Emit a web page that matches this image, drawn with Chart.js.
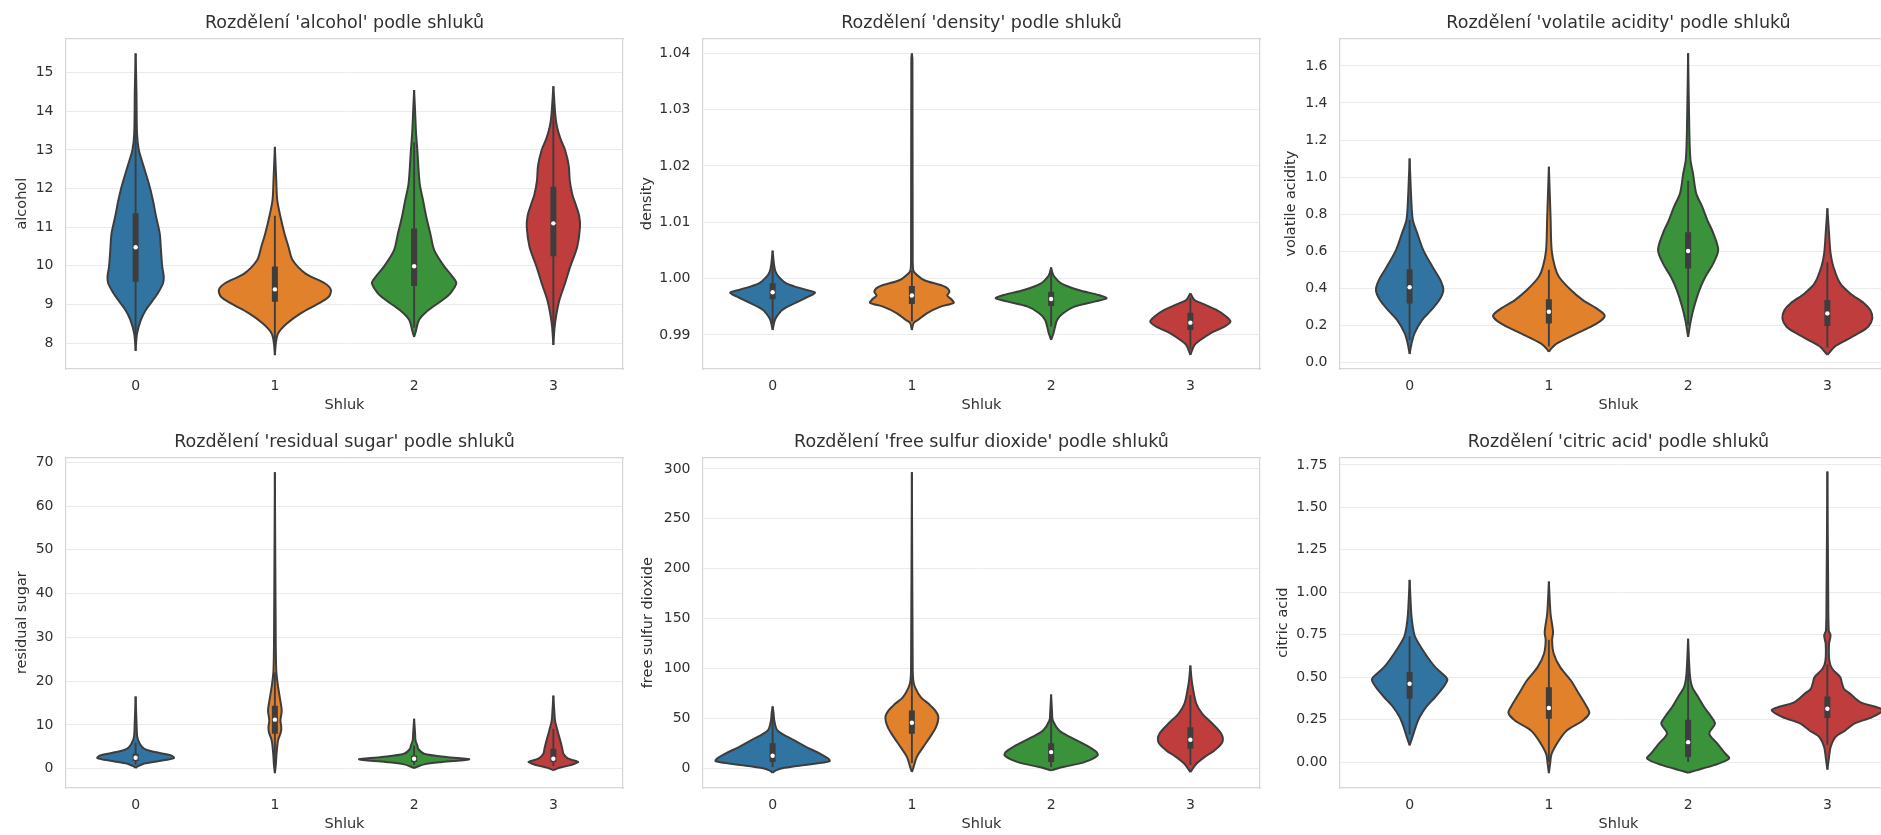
<!DOCTYPE html>
<html>
<head>
<meta charset="utf-8">
<title>Rozdělení vlastností vína podle shluků</title>
<script src="https://cdn.jsdelivr.net/npm/chart.js@4.4.1/dist/chart.umd.min.js"></script>
<style>
  html, body { margin: 0; padding: 0; background: #ffffff; }
  body { position: relative; width: 1881px; height: 835px; overflow: hidden; }
  canvas { position: absolute; }
</style>
</head>
<body>
<script>
// Cluster categories and their violin colours
const clusterLabels = ['0', '1', '2', '3'];
const clusterFills = ['#3274a1', '#e1812c', '#3a923a', '#c03d3e'];

// Violin outlines: [value, half-width in category units], sorted by value

// alcohol
const alcoholShapes = [
  [[7.8,0],[8.25,0.01],[8.6,0.038],[8.85,0.072],[9.11,0.124],[9.29,0.159],[9.55,0.197],[9.72,0.202],[9.98,0.191],[10.4,0.182],[10.84,0.173],[11.27,0.147],[11.7,0.124],[12.05,0.101],[12.57,0.058],[13.0,0.023],[13.43,0.01],[14.5,0.006],[15.5,0]],
  [[7.69,0],[8.0,0.007],[8.25,0.023],[8.5,0.084],[8.77,0.185],[9.03,0.315],[9.2,0.387],[9.38,0.402],[9.55,0.358],[9.8,0.22],[10.15,0.127],[10.49,0.098],[10.84,0.069],[11.27,0.04],[11.7,0.017],[12.2,0.01],[13.08,0]],
  [[8.16,0],[8.3,0.012],[8.6,0.035],[8.85,0.101],[9.11,0.202],[9.29,0.26],[9.55,0.303],[9.72,0.275],[9.98,0.217],[10.4,0.145],[10.84,0.116],[11.27,0.087],[11.7,0.064],[12.13,0.04],[13.0,0.023],[13.43,0.014],[14.0,0.007],[14.55,0]],
  [[7.95,0],[8.42,0.009],[8.77,0.023],[9.11,0.043],[9.55,0.084],[9.98,0.121],[10.49,0.171],[11.0,0.191],[11.3,0.185],[11.6,0.159],[11.85,0.136],[12.2,0.118],[12.6,0.11],[13.0,0.084],[13.3,0.05],[13.6,0.026],[13.9,0.014],[14.65,0]]
];
const alcoholQ1 = [9.59, 9.07, 9.48, 10.25];
const alcoholMedian = [10.48, 9.39, 9.99, 11.1];
const alcoholQ3 = [11.36, 9.98, 10.97, 12.05];
const alcoholWhiskerLow = [8.0, 8.0, 8.4, 8.2];
const alcoholWhiskerHigh = [14.0, 11.3, 13.2, 14.2];
const alcoholRange = [7.33, 15.89];
const alcoholTicks = [8, 9, 10, 11, 12, 13, 14, 15];

// density
const densityShapes = [
  [[0.99089,0],[0.9925,0.014],[0.99325,0.029],[0.99444,0.069],[0.99562,0.156],[0.9968,0.256],[0.99751,0.305],[0.99799,0.242],[0.99917,0.098],[1.00036,0.043],[1.0013,0.02],[1.0025,0.01],[1.00497,0]],
  [[0.99089,0],[0.9921,0.012],[0.99266,0.043],[0.99385,0.107],[0.99503,0.207],[0.9957,0.3],[0.9963,0.285],[0.997,0.254],[0.9977,0.27],[0.99858,0.236],[0.99976,0.086],[1.00095,0.023],[1.0015,0.01],[1.003,0.006],[1.039,0.004],[1.04,0]],
  [[0.98911,0],[0.9903,0.017],[0.99266,0.043],[0.99385,0.086],[0.99503,0.167],[0.99592,0.311],[0.99651,0.398],[0.9971,0.34],[0.99799,0.196],[0.99917,0.072],[1.00036,0.023],[1.001,0.01],[1.002,0]],
  [[0.98645,0],[0.9882,0.029],[0.98911,0.072],[0.9903,0.144],[0.99148,0.245],[0.99237,0.288],[0.99325,0.259],[0.99444,0.187],[0.99562,0.081],[0.99621,0.029],[0.9974,0]]
];
const densityQ1 = [0.99633, 0.9955, 0.99515, 0.99089];
const densityMedian = [0.99757, 0.997, 0.99639, 0.99219];
const densityQ3 = [0.99917, 0.9987, 0.99769, 0.99396];
const densityWhiskerLow = [0.9921, 0.9924, 0.9915, 0.9874];
const densityWhiskerHigh = [1.0032, 1.0015, 1.0013, 0.9966];
const densityRange = [0.98396, 1.04266];
const densityTicks = [0.99, 1.00, 1.01, 1.02, 1.03, 1.04];

// volatile acidity
const volatileShapes = [
  [[0.045,0],[0.102,0.014],[0.156,0.035],[0.228,0.089],[0.282,0.155],[0.336,0.213],[0.39,0.242],[0.444,0.221],[0.516,0.164],[0.606,0.098],[0.696,0.055],[0.768,0.023],[0.876,0.012],[1.1,0]],
  [[0.057,0],[0.075,0.017],[0.102,0.058],[0.156,0.201],[0.21,0.345],[0.25,0.401],[0.282,0.36],[0.336,0.244],[0.39,0.158],[0.462,0.072],[0.516,0.043],[0.606,0.02],[0.786,0.012],[1.056,0]],
  [[0.138,0],[0.228,0.02],[0.3,0.043],[0.39,0.081],[0.462,0.124],[0.534,0.181],[0.606,0.216],[0.696,0.181],[0.768,0.138],[0.84,0.101],[0.912,0.058],[1.02,0.035],[1.092,0.017],[1.236,0.009],[1.668,0]],
  [[0.04,0],[0.084,0.052],[0.12,0.135],[0.156,0.221],[0.192,0.293],[0.237,0.323],[0.282,0.308],[0.318,0.265],[0.372,0.164],[0.426,0.092],[0.516,0.043],[0.588,0.023],[0.696,0.012],[0.831,0]]
];
const volatileQ1 = [0.318, 0.21, 0.507, 0.196];
const volatileMedian = [0.405, 0.273, 0.601, 0.264];
const volatileQ3 = [0.502, 0.34, 0.702, 0.336];
const volatileWhiskerLow = [0.12, 0.085, 0.2, 0.08];
const volatileWhiskerHigh = [0.77, 0.5, 0.98, 0.54];
const volatileRange = [-0.036, 1.749];
const volatileTicks = [0, 0.2, 0.4, 0.6, 0.8, 1.0, 1.2, 1.4, 1.6];

// residual sugar
const sugarShapes = [
  [[0.15,0],[0.53,0.014],[1.14,0.058],[1.75,0.168],[2.43,0.275],[3.04,0.254],[3.8,0.139],[4.6,0.06],[5.7,0.03],[7.2,0.012],[10,0.007],[16.5,0]],
  [[-1.0,0],[1,0.007],[3.42,0.012],[6.46,0.023],[8.36,0.043],[9.5,0.046],[11.0,0.04],[13.3,0.049],[16.35,0.035],[19.4,0.02],[22.4,0.01],[30,0.006],[67.7,0]],
  [[0.15,0],[0.38,0.017],[0.99,0.072],[1.52,0.202],[2.13,0.396],[2.66,0.231],[3.42,0.072],[4.5,0.03],[5.3,0.023],[6.46,0.01],[8,0.007],[11.4,0]],
  [[-0.38,0],[0.23,0.043],[0.76,0.116],[1.52,0.179],[2.28,0.107],[3.42,0.072],[4.57,0.064],[6.47,0.049],[8.75,0.029],[11.0,0.012],[13,0.007],[16.7,0]]
];
const sugarQ1 = [1.75, 7.98, 1.52, 1.52];
const sugarMedian = [2.51, 11.2, 2.28, 2.28];
const sugarQ3 = [3.42, 14.4, 3.04, 4.57];
const sugarWhiskerLow = [0.9, 0.8, 0.9, 0.6];
const sugarWhiskerHigh = [5.9, 22, 5.3, 9.1];
const sugarRange = [-4.41, 71.14];
const sugarTicks = [0, 10, 20, 30, 40, 50, 60, 70];

// free sulfur dioxide
const sulfurShapes = [
  [[-4.7,0],[-2.3,0.023],[0.3,0.086],[3.6,0.259],[6.9,0.409],[9.3,0.401],[14.3,0.343],[21,0.242],[27.7,0.156],[37.7,0.035],[47.7,0.012],[55,0.007],[61.8,0]],
  [[-4,0],[1,0.012],[11,0.035],[21,0.081],[31,0.13],[41,0.173],[51,0.19],[57.8,0.167],[64.4,0.121],[71,0.065],[81,0.023],[88,0.01],[100,0.006],[296.7,0]],
  [[-2.3,0],[1,0.086],[6,0.239],[12.7,0.334],[16,0.326],[22.7,0.254],[31,0.138],[37.7,0.058],[47.7,0.012],[55,0.007],[73.8,0]],
  [[-4,0],[4.3,0.043],[11,0.101],[17.7,0.173],[26,0.23],[34.4,0.222],[44.4,0.159],[54.4,0.086],[64.4,0.043],[81,0.017],[90,0.008],[102.9,0]]
];
const sulfurQ1 = [6, 34.4, 6, 19.4];
const sulfurMedian = [12.3, 45.4, 16, 28.4];
const sulfurQ3 = [25, 57.8, 25, 41];
const sulfurWhiskerLow = [1, 5, 1, 3];
const sulfurWhiskerHigh = [53, 92, 53, 73];
const sulfurRange = [-20, 311.7];
const sulfurTicks = [0, 50, 100, 150, 200, 250, 300];

// citric acid
const citricShapes = [
  [[0.098,0],[0.147,0.02],[0.206,0.043],[0.265,0.072],[0.324,0.118],[0.383,0.184],[0.441,0.242],[0.48,0.27],[0.5,0.262],[0.559,0.184],[0.638,0.112],[0.736,0.04],[0.795,0.023],[0.873,0.012],[1.073,0]],
  [[-0.065,0],[-0.01,0.009],[0.049,0.02],[0.127,0.072],[0.186,0.129],[0.245,0.244],[0.288,0.29],[0.324,0.273],[0.402,0.216],[0.48,0.158],[0.559,0.081],[0.638,0.035],[0.716,0.023],[0.76,0.03],[0.795,0.026],[0.873,0.012],[1.063,0]],
  [[-0.063,0],[-0.049,0.058],[-0.02,0.181],[0.02,0.295],[0.049,0.268],[0.108,0.21],[0.167,0.152],[0.226,0.193],[0.265,0.167],[0.324,0.115],[0.383,0.072],[0.441,0.029],[0.52,0.012],[0.726,0]],
  [[-0.045,0],[0.029,0.012],[0.088,0.023],[0.147,0.058],[0.186,0.129],[0.226,0.193],[0.265,0.322],[0.304,0.4],[0.324,0.351],[0.353,0.236],[0.402,0.164],[0.43,0.12],[0.461,0.106],[0.5,0.092],[0.549,0.035],[0.598,0.014],[0.696,0.012],[0.746,0.023],[0.775,0.01],[1.0,0.006],[1.711,0]]
];
const citricQ1 = [0.373, 0.255, 0.029, 0.259];
const citricMedian = [0.461, 0.318, 0.117, 0.314];
const citricQ3 = [0.53, 0.441, 0.249, 0.386];
const citricWhiskerLow = [0.16, 0.0, 0.0, 0.1];
const citricWhiskerHigh = [0.74, 0.72, 0.58, 0.575];
const citricRange = [-0.153, 1.795];
const citricTicks = [0, 0.25, 0.5, 0.75, 1.0, 1.25, 1.5, 1.75];

// ---- styling ----
const FONT = "'DejaVu Sans', 'Liberation Sans', sans-serif";
const TEXT = '#303030';
const OUTLINE = '#3d3d3d';
const EDGE = '#d6d6d6';
const GRID = '#ebebeb';
Chart.defaults.font.family = FONT;
Chart.defaults.color = TEXT;

// Panel grid: each canvas is 689x416 with a 557 px wide plot area inset 66 px
const CANVAS_W = 689, CANVAS_H = 416, SIDE = 66, XAXIS_H = 47;

const panels = [
  { name: 'alcohol', shapes: alcoholShapes, q1: alcoholQ1, med: alcoholMedian, q3: alcoholQ3, lo: alcoholWhiskerLow, hi: alcoholWhiskerHigh, range: alcoholRange, ticks: alcoholTicks, decimals: 0, left: 0, top: 0, labelPad: 14 },
  { name: 'density', shapes: densityShapes, q1: densityQ1, med: densityMedian, q3: densityQ3, lo: densityWhiskerLow, hi: densityWhiskerHigh, range: densityRange, ticks: densityTicks, decimals: 2, left: 637, top: 0, labelPad: 1.3 },
  { name: 'volatile acidity', shapes: volatileShapes, q1: volatileQ1, med: volatileMedian, q3: volatileQ3, lo: volatileWhiskerLow, hi: volatileWhiskerHigh, range: volatileRange, ticks: volatileTicks, decimals: 1, left: 1274, top: 0, labelPad: 8.3 },
  { name: 'residual sugar', shapes: sugarShapes, q1: sugarQ1, med: sugarMedian, q3: sugarQ3, lo: sugarWhiskerLow, hi: sugarWhiskerHigh, range: sugarRange, ticks: sugarTicks, decimals: 0, left: 0, top: 419, labelPad: 14 },
  { name: 'free sulfur dioxide', shapes: sulfurShapes, q1: sulfurQ1, med: sulfurMedian, q3: sulfurQ3, lo: sulfurWhiskerLow, hi: sulfurWhiskerHigh, range: sulfurRange, ticks: sulfurTicks, decimals: 0, left: 637, top: 419, labelPad: 2.3 },
  { name: 'citric acid', shapes: citricShapes, q1: citricQ1, med: citricMedian, q3: citricQ3, lo: citricWhiskerLow, hi: citricWhiskerHigh, range: citricRange, ticks: citricTicks, decimals: 2, left: 1274, top: 419, labelPad: 0.3 }
];

function buildDatasets(p) {
  const sets = [];
  p.shapes.forEach((shape, c) => {
    // right and left halves of the violin; the space between them is filled
    const right = shape.map(([v, w]) => ({ x: c + w, y: v }));
    const left = shape.map(([v, w]) => ({ x: c - w, y: v }));
    const half = {
      xAxisID: 'x', yAxisID: 'y', borderColor: OUTLINE, borderWidth: 2,
      tension: 0.3, pointRadius: 0, borderJoinStyle: 'round', order: 3
    };
    sets.push(Object.assign({}, half, { data: right, fill: '+1', backgroundColor: clusterFills[c] }));
    sets.push(Object.assign({}, half, { data: left, fill: false, backgroundColor: clusterFills[c] }));
    // whisker
    sets.push({
      xAxisID: 'x', yAxisID: 'y', data: [{ x: c, y: p.lo[c] }, { x: c, y: p.hi[c] }],
      borderColor: OUTLINE, borderWidth: 1.9, pointRadius: 0, fill: false, order: 2
    });
    // interquartile box
    sets.push({
      xAxisID: 'x', yAxisID: 'y', data: [{ x: c, y: p.q1[c] }, { x: c, y: p.q3[c] }],
      borderColor: OUTLINE, borderWidth: 6, borderCapStyle: 'butt', pointRadius: 0, fill: false, order: 1
    });
    // median marker
    sets.push({
      xAxisID: 'x', yAxisID: 'y', data: [{ x: c, y: p.med[c] }],
      showLine: false, pointRadius: 2.2, pointBackgroundColor: '#ffffff', pointBorderWidth: 0, fill: false, order: 0
    });
  });
  return sets;
}

function frameAxis(position, min, max, fit) {
  return {
    type: 'linear', position, min, max, display: true,
    ticks: { display: false },
    grid: { display: false, drawTicks: false },
    border: { display: true, color: EDGE, width: 1.2 },
    afterFit: fit
  };
}

panels.forEach(p => {
  const canvas = document.createElement('canvas');
  canvas.width = CANVAS_W;
  canvas.height = CANVAS_H;
  canvas.style.left = p.left + 'px';
  canvas.style.top = p.top + 'px';
  document.body.appendChild(canvas);

  new Chart(canvas, {
    type: 'line',
    data: { datasets: buildDatasets(p) },
    options: {
      responsive: false,
      animation: false,
      events: [],
      indexAxis: 'y',
      layout: { padding: 0 },
      plugins: {
        legend: { display: false },
        tooltip: { enabled: false },
        filler: { drawTime: 'beforeDatasetsDraw', propagate: false },
        title: {
          display: true,
          text: "Rozdělení '" + p.name + "' podle shluků",
          color: TEXT,
          font: { family: FONT, size: 17.5, weight: 'normal' },
          padding: { top: 13, bottom: 4.3 }
        }
      },
      scales: {
        x: {
          type: 'linear', position: 'bottom', min: -0.5, max: 3.5,
          afterBuildTicks: s => { s.ticks = clusterLabels.map((_, i) => ({ value: i })); },
          ticks: {
            callback: v => clusterLabels[v], padding: 9.1, autoSkip: false, maxRotation: 0,
            color: TEXT, font: { family: FONT, size: 14 }
          },
          grid: { display: false, drawTicks: false },
          border: { display: true, color: EDGE, width: 1.2 },
          title: {
            display: true, text: 'Shluk', color: TEXT,
            font: { family: FONT, size: 14.5 }, padding: { top: 0, bottom: 1.8 }
          },
          afterFit: s => { s.height = XAXIS_H; }
        },
        xTop: frameAxis('top', -0.5, 3.5, s => { s.height = 0; }),
        y: {
          type: 'linear', position: 'left', min: p.range[0], max: p.range[1],
          afterBuildTicks: s => { s.ticks = p.ticks.map(v => ({ value: v })); },
          ticks: {
            callback: v => Number(v).toFixed(p.decimals), padding: 12.5, autoSkip: false,
            color: TEXT, font: { family: FONT, size: 14 }
          },
          grid: { color: GRID, lineWidth: 1, drawTicks: false },
          border: { display: true, color: EDGE, width: 1.2 },
          title: {
            display: true, text: p.name, color: TEXT,
            font: { family: FONT, size: 14.5 }, padding: { top: p.labelPad, bottom: 0 }
          },
          afterFit: s => { s.width = SIDE; }
        },
        yRight: frameAxis('right', p.range[0], p.range[1], s => { s.width = SIDE; })
      }
    }
  });
});
</script>
</body>
</html>
